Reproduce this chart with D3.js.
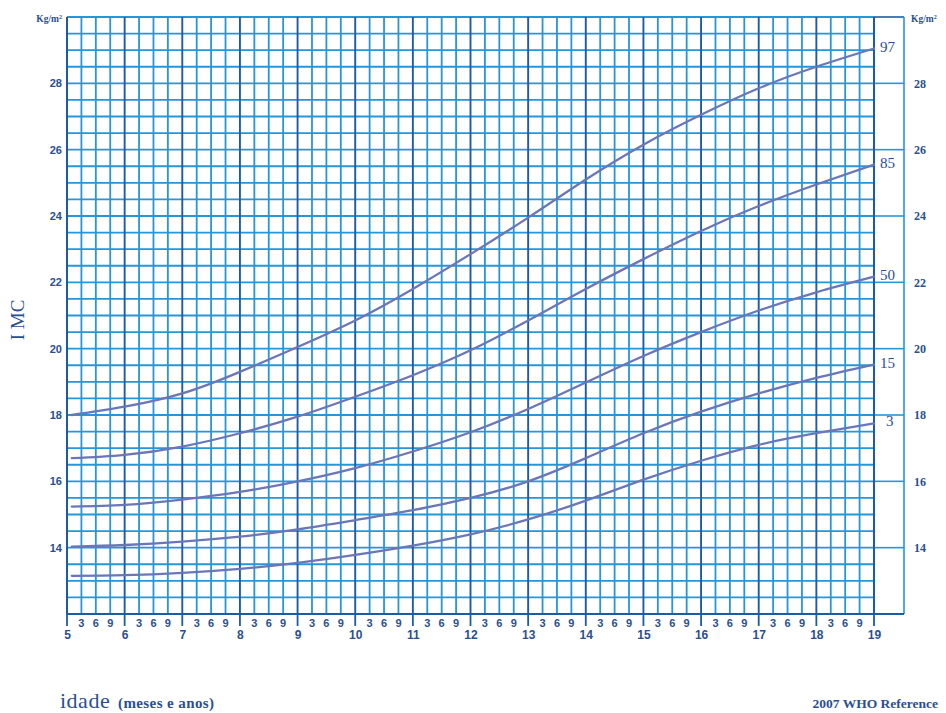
<!DOCTYPE html>
<html><head><meta charset="utf-8">
<script src="https://cdn.jsdelivr.net/npm/d3@7/dist/d3.min.js"></script>
<style>html,body{margin:0;padding:0;background:#fff;}svg{display:block;}</style>
</head><body><svg id="c" width="946" height="713"></svg>
<script>
// ---- data ----
const ages = [5.083, 6, 7, 8, 9, 10, 11, 12, 13, 14, 15, 16, 17, 18, 19];
const p97 = [18.0, 18.25, 18.65, 19.3, 20.05, 20.85, 21.8, 22.85, 23.95, 25.1, 26.15, 27.05, 27.85, 28.5, 29.05];
const p85 = [16.7, 16.8, 17.05, 17.45, 17.95, 18.55, 19.2, 19.95, 20.85, 21.8, 22.7, 23.55, 24.3, 24.95, 25.55];
const p50 = [15.24, 15.29, 15.45, 15.68, 16.0, 16.4, 16.9, 17.48, 18.18, 18.98, 19.78, 20.5, 21.15, 21.7, 22.17];
const p15 = [14.03, 14.08, 14.18, 14.33, 14.55, 14.83, 15.13, 15.5, 16.0, 16.7, 17.45, 18.1, 18.65, 19.12, 19.52];
const p3  = [13.15, 13.17, 13.24, 13.36, 13.54, 13.78, 14.06, 14.4, 14.85, 15.42, 16.05, 16.62, 17.1, 17.45, 17.75];
const seriesNames = ["97", "85", "50", "15", "3"];
const seriesValues = [p97, p85, p50, p15, p3];
const yearTicks = [5,6,7,8,9,10,11,12,13,14,15,16,17,18,19];
const monthLabels = ["3","6","9"];
const yTicks = [14,16,18,20,22,24,26,28];

// ---- layout ----
const svg = d3.select("#c");
const x = d3.scaleLinear().domain([5,19]).range([67,874]);
const y = d3.scaleLinear().domain([12,30]).range([614,17]);
const boxRight = 904;
const minorCol = "#2596d8", majorCol = "#1b5ca6", textCol = "#2a4f91", curveCol = "#6b76b8";

const g = svg.append("g");
// horizontal grid every 0.5
d3.range(12, 30.01, 0.5).forEach(v => {
  g.append("line").attr("x1", x(5)).attr("x2", x(19)).attr("y1", y(v)).attr("y2", y(v))
    .attr("stroke", minorCol).attr("stroke-width", 1.8);
});
// vertical grid every 3 months
d3.range(0, 14*4+1).forEach(i => {
  const a = 5 + i/4;
  const isYear = i % 4 === 0;
  g.append("line").attr("x1", x(a)).attr("x2", x(a)).attr("y1", y(30)).attr("y2", y(12))
    .attr("stroke", isYear ? majorCol : minorCol).attr("stroke-width", isYear ? 1.9 : 1.8);
});
// right box
[12,14,16,18,20,22,24,26,28,30].forEach(v => {
  g.append("line").attr("x1", x(19)).attr("x2", boxRight).attr("y1", y(v)).attr("y2", y(v))
    .attr("stroke", v===12||v===30 ? majorCol : minorCol).attr("stroke-width", 1.6);
});
g.append("line").attr("x1", boxRight).attr("x2", boxRight).attr("y1", y(30)).attr("y2", y(12))
  .attr("stroke", minorCol).attr("stroke-width", 1.6);
// borders
g.append("line").attr("x1", x(5)).attr("x2", boxRight).attr("y1", y(12)).attr("y2", y(12))
  .attr("stroke", majorCol).attr("stroke-width", 2);
g.append("line").attr("x1", x(5)).attr("x2", x(5)).attr("y1", y(30)).attr("y2", y(12))
  .attr("stroke", majorCol).attr("stroke-width", 2);
g.append("line").attr("x1", x(19)).attr("x2", x(19)).attr("y1", y(30)).attr("y2", y(12))
  .attr("stroke", majorCol).attr("stroke-width", 1.9);

// year ticks below axis
yearTicks.forEach(a => {
  g.append("line").attr("x1", x(a)).attr("x2", x(a)).attr("y1", y(12)).attr("y2", y(12)+12)
    .attr("stroke", majorCol).attr("stroke-width", 1.8);
});

// ---- axes text ----
const sans = "'Liberation Sans', Arial, sans-serif";
const serif = "'Liberation Serif', 'DejaVu Serif', serif";
const axB = d3.axisBottom(x).tickValues(yearTicks).tickSize(0).tickPadding(0).tickFormat(d3.format("d"));
const xa = svg.append("g").attr("transform", `translate(0,${y(12)+16})`).call(axB);
xa.select(".domain").remove();
xa.selectAll("text").attr("fill", textCol).attr("font-family", sans).attr("font-size", 12).attr("font-weight", "bold");

yearTicks.slice(0,-1).forEach(a => {
  monthLabels.forEach((m, k) => {
    svg.append("text").attr("x", x(a + (k+1)/4)).attr("y", y(12)+13)
      .attr("text-anchor", "middle").attr("fill", textCol).attr("font-family", sans)
      .attr("font-size", 11).attr("font-weight", "bold").text(m);
  });
});

const axL = d3.axisLeft(y).tickValues(yTicks).tickSize(0).tickPadding(0).tickFormat(d3.format("d"));
const ya = svg.append("g").attr("transform", `translate(62,0)`).call(axL);
ya.select(".domain").remove();
ya.selectAll("text").attr("fill", textCol).attr("font-family", sans).attr("font-size", 11).attr("font-weight", "bold");

const axR = d3.axisRight(y).tickValues(yTicks).tickSize(0).tickPadding(0).tickFormat(d3.format("d"));
const yr = svg.append("g").attr("transform", `translate(914,0)`).call(axR);
yr.select(".domain").remove();
yr.selectAll("text").attr("fill", textCol).attr("font-family", serif).attr("font-size", 12).attr("font-weight", "bold");

// units
svg.append("text").attr("x", 62).attr("y", 22).attr("text-anchor", "end").attr("fill", textCol)
  .attr("font-family", serif).attr("font-size", 9.5).attr("font-weight", "bold").html("Kg/m<tspan font-size='6' dy='-3'>2</tspan>");
svg.append("text").attr("x", 911).attr("y", 22).attr("text-anchor", "start").attr("fill", textCol)
  .attr("font-family", serif).attr("font-size", 9.5).attr("font-weight", "bold").html("Kg/m<tspan font-size='6' dy='-3'>2</tspan>");

// y label
svg.append("text").attr("transform", "translate(24,320) rotate(-90)").attr("text-anchor", "middle")
  .attr("fill", textCol).attr("font-family", serif).attr("font-size", 19).text("I MC");

// x label
const xl = svg.append("text").attr("x", 60).attr("y", 708).attr("fill", textCol).attr("font-family", serif);
xl.append("tspan").attr("font-size", 22).attr("letter-spacing", 0.5).text("idade");
xl.append("tspan").attr("x", 118).attr("font-size", 15).attr("font-weight", "bold").attr("letter-spacing", 0.4).text("(meses e anos)");

svg.append("text").attr("x", 938).attr("y", 708).attr("text-anchor", "end").attr("fill", textCol)
  .attr("font-family", serif).attr("font-size", 13.5).attr("font-weight", "bold").text("2007 WHO Reference");

// ---- curves ----
const line = d3.line().x((d,i) => x(ages[i])).y(d => y(d)).curve(d3.curveNatural);
seriesValues.forEach((vals, si) => {
  svg.append("path").attr("d", line(vals)).attr("fill", "none")
    .attr("stroke", curveCol).attr("stroke-width", 2.3).attr("stroke-linecap", "round");
  const last = vals[vals.length-1];
  svg.append("text").attr("x", seriesNames[si].length > 1 ? x(19)+6 : x(19)+12).attr("y", y(last)-2)
    .attr("dominant-baseline", "central").attr("fill", textCol).attr("font-family", serif)
    .attr("font-size", 15).text(seriesNames[si]);
});
</script></body></html>
